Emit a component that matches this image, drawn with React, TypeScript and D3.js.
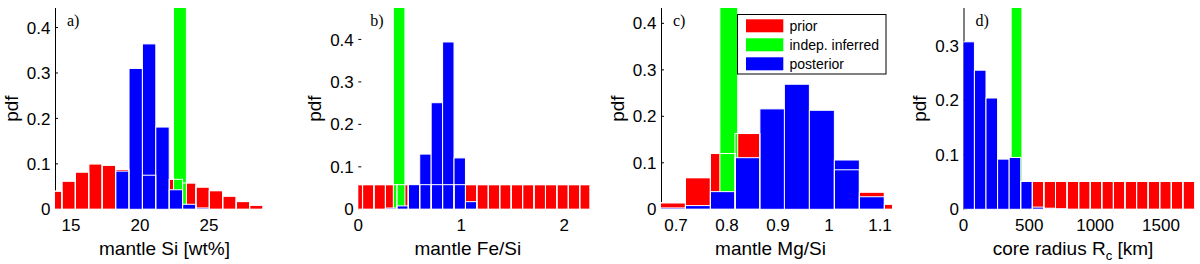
import { useEffect, useRef } from 'react';
import * as d3 from 'd3';

const W = 1200;
const H = 264;
const TOP = 8;
const BOTTOM = 209.3;
const PW = 231;

// a) mantle Si [wt%]
const siBins = [13.86, 14.83, 15.80, 16.77, 17.75, 18.72, 19.69, 20.66, 21.63, 22.60, 23.57, 24.54, 25.51, 26.48, 27.46, 28.43, 29.40];
const siPrior = [0.040, 0.062, 0.082, 0.100, 0.097, 0.088, null, 0.075, null, 0.066, 0.058, 0.049, 0.041, 0.029, 0.017, 0.009, 0.002];
const siPost = [0, 0, 0, 0, 0, 0.084, 0.310, 0.364, 0.181, 0.043, 0.011, 0.003, 0, 0, 0, 0, 0];
const siIndep = [22.43, 23.36];
const siTicks = [15, 20, 25];

// b) mantle Fe/Si
const feBins = [-0.015, 0.097, 0.208, 0.319, 0.430, 0.541, 0.652, 0.763, 0.874, 0.985, 1.096, 1.207, 1.318, 1.429, 1.540, 1.651, 1.762, 1.873, 1.984, 2.095, 2.206];
const fePrior = [0.058, 0.058, 0.058, 0.058, 0.058, 0.058, 0.058, 0.058, 0.058, 0.058, 0.058, 0.058, 0.058, 0.058, 0.058, 0.058, 0.058, 0.058, 0.058, 0.058, 0.058];
const fePost = [0, 0, 0, 0.003, 0.008, 0.059, 0.130, 0.251, 0.394, 0.121, 0.018, 0, 0, 0, 0, 0, 0, 0, 0, 0, 0];
const feIndep = [0.34, 0.453];
const feTicks = [0, 1, 2];

// c) mantle Mg/Si
const mgBins = [0.694, 0.743, 0.792, 0.840, 0.889, 0.937, 0.986, 1.035, 1.084, 1.133];
const mgPrior = [0.014, 0.068, 0.120, 0.163, null, null, null, 0.085, 0.037, 0.011];
const mgPost = [0.003, 0.008, 0.038, 0.111, 0.216, 0.269, 0.213, 0.106, 0.027, 0];
const mgIndep = [0.786, 0.821];
const mgTicks = [0.7, 0.8, 0.9, 1, 1.1];

// d) core radius [km]
const rcBins = [39, 127, 215, 303, 391, 479, 567, 655, 743, 831, 919, 1007, 1095, 1183, 1271, 1359, 1447, 1535, 1623, 1711];
const rcPrior = [null, null, null, null, null, 0.051, 0.051, 0.051, 0.051, 0.051, 0.051, 0.051, 0.051, 0.051, 0.051, 0.051, 0.051, 0.051, 0.051, 0.051];
const rcPost = [0.307, 0.255, 0.204, 0.092, 0.095, 0.051, 0.004, 0.002, 0.001, 0, 0, 0, 0, 0, 0, 0, 0, 0, 0, 0];
const rcIndep = [362, 444];
const rcTicks = [0, 500, 1000, 1500];

const pdfTicks = [0, 0.1, 0.2, 0.3, 0.4];
const pdfTicksD = [0, 0.1, 0.2, 0.3];
const indepPdf = 1;

const legendNames = ['prior', 'indep. inferred', 'posterior'];
const RED = '#ff0000';
const GREEN = '#00ff00';
const BLUE = '#0000ff';
const SANS = 'Liberation Sans, Arial, sans-serif';

interface Panel {
  tag: string;
  left: number;
  axisLine: boolean;
  xDomain: [number, number];
  yMax: number;
  xTicks: number[];
  yTicks: number[];
  bins: number[];
  binWidth: number;
  prior: (number | null)[];
  post: number[];
  indep: number[];
  label: string[];
}

const panels: Panel[] = [
  { tag: 'a)', left: 55, axisLine: true, xDomain: [13.84, 30.58], yMax: 0.443, xTicks: siTicks, yTicks: pdfTicks,
    bins: siBins, binWidth: 0.97, prior: siPrior, post: siPost, indep: siIndep, label: ['mantle Si [wt%]'] },
  { tag: 'b)', left: 358.3, axisLine: false, xDomain: [0, 2.243], yMax: 0.474, xTicks: feTicks, yTicks: pdfTicks,
    bins: feBins, binWidth: 0.111, prior: fePrior, post: fePost, indep: feIndep, label: ['mantle Fe/Si'] },
  { tag: 'c)', left: 661, axisLine: true, xDomain: [0.6706, 1.1235], yMax: 0.433, xTicks: mgTicks, yTicks: pdfTicks,
    bins: mgBins, binWidth: 0.049, prior: mgPrior, post: mgPost, indep: mgIndep, label: ['mantle Mg/Si'] },
  { tag: 'd)', left: 963.5, axisLine: true, xDomain: [0, 1755], yMax: 0.369, xTicks: rcTicks, yTicks: pdfTicksD,
    bins: rcBins, binWidth: 88, prior: rcPrior, post: rcPost, indep: rcIndep, label: ['core radius R', 'c', ' [km]'] },
];

export default function App() {
  const svgRef = useRef<SVGSVGElement>(null);

  useEffect(() => {
    if (!svgRef.current) return;
    const svg = d3.select(svgRef.current);
    svg.selectAll('*').remove();

    svg.append('rect').attr('width', W).attr('height', H).attr('fill', '#fff');
    const defs = svg.append('defs');

    panels.forEach((p, pi) => {
      const x = d3.scaleLinear().domain(p.xDomain).range([p.left, p.left + PW]);
      const y = d3.scaleLinear().domain([0, p.yMax]).range([BOTTOM, TOP]);
      const g = svg.append('g');

      defs.append('clipPath').attr('id', `clip${pi}`)
        .append('rect')
        .attr('x', p.left).attr('y', TOP)
        .attr('width', PW).attr('height', BOTTOM - TOP + 1);

      // y axis, beneath the bars
      if (p.axisLine) {
        g.append('line')
          .attr('x1', p.left + 0.5).attr('x2', p.left + 0.5)
          .attr('y1', TOP).attr('y2', BOTTOM)
          .attr('stroke', '#000').attr('stroke-width', 1);
      }

      g.selectAll('.ytick').data(p.yTicks).join('line')
        .attr('x1', p.left).attr('x2', p.left + 3)
        .attr('y1', d => y(d)).attr('y2', d => y(d))
        .attr('stroke', '#000');
      g.selectAll('.ylab').data(p.yTicks).join('text')
        .attr('x', p.left - 4.5).attr('y', d => y(d)).attr('dy', '0.36em')
        .attr('text-anchor', 'end')
        .attr('font-family', SANS)
        .attr('font-size', 17)
        .text(d => String(d));

      g.selectAll('.xlab').data(p.xTicks).join('text')
        .attr('x', d => x(d)).attr('y', 230.5)
        .attr('text-anchor', 'middle')
        .attr('font-family', SANS)
        .attr('font-size', 17)
        .text(d => String(d));

      const bars = g.append('g').attr('clip-path', `url(#clip${pi})`);
      const half = p.binWidth / 2;
      const priorIdx = p.bins.map((_, i) => i).filter(i => p.prior[i] != null);
      const postIdx = p.bins.map((_, i) => i).filter(i => p.post[i] > 0);

      bars.selectAll('.prior').data(priorIdx).join('rect')
        .attr('x', i => x(p.bins[i] - half))
        .attr('width', i => x(p.bins[i] + half) - x(p.bins[i] - half))
        .attr('y', i => y(p.prior[i] as number))
        .attr('height', i => BOTTOM - y(p.prior[i] as number))
        .attr('fill', RED).attr('stroke', '#fff').attr('stroke-width', 1);

      bars.append('rect')
        .attr('x', x(p.indep[0]))
        .attr('width', x(p.indep[1]) - x(p.indep[0]))
        .attr('y', y(indepPdf))
        .attr('height', BOTTOM - y(indepPdf))
        .attr('fill', GREEN).attr('stroke', '#fff').attr('stroke-width', 1);

      bars.selectAll('.post').data(postIdx).join('rect')
        .attr('x', i => x(p.bins[i] - half))
        .attr('width', i => x(p.bins[i] + half) - x(p.bins[i] - half))
        .attr('y', i => y(p.post[i]))
        .attr('height', i => BOTTOM - y(p.post[i]))
        .attr('fill', BLUE).attr('stroke', '#fff').attr('stroke-width', 1);

      // prior outlines show through the other bars
      bars.selectAll('.priorEdge').data(priorIdx).join('rect')
        .attr('x', i => x(p.bins[i] - half))
        .attr('width', i => x(p.bins[i] + half) - x(p.bins[i] - half))
        .attr('y', i => y(p.prior[i] as number))
        .attr('height', i => BOTTOM - y(p.prior[i] as number))
        .attr('fill', 'none').attr('stroke', '#fff').attr('stroke-width', 1);

      g.append('text')
        .attr('x', p.left + 12).attr('y', 26)
        .attr('font-family', 'Liberation Serif, Times New Roman, serif')
        .attr('font-size', 16)
        .text(p.tag);

      g.append('text')
        .attr('transform', `translate(${p.left - 44},${(TOP + BOTTOM) / 2}) rotate(-90)`)
        .attr('dy', '0.36em')
        .attr('text-anchor', 'middle')
        .attr('font-family', SANS)
        .attr('font-size', 19)
        .text('pdf');

      const xl = g.append('text')
        .attr('x', p.left + PW / 2 - 6).attr('y', 255)
        .attr('text-anchor', 'middle')
        .attr('font-family', SANS)
        .attr('font-size', 19);
      xl.append('tspan').text(p.label[0]);
      if (p.label.length > 1) {
        xl.append('tspan').attr('font-size', 13).attr('dy', 5).text(p.label[1]);
        xl.append('tspan').attr('dy', -5).text(p.label[2]);
      }
    });

    // legend in panel c
    const lg = svg.append('g');
    lg.append('rect')
      .attr('x', 737.5).attr('y', 14.5).attr('width', 148.5).attr('height', 59.5)
      .attr('fill', '#fff').attr('stroke', '#000').attr('stroke-width', 1);
    const colors = [RED, GREEN, BLUE];
    lg.selectAll('.sw').data(legendNames).join('rect')
      .attr('x', 746).attr('y', (_, i) => 19.3 + i * 19)
      .attr('width', 37.3).attr('height', 13)
      .attr('fill', (_, i) => colors[i]);
    lg.selectAll('.lt').data(legendNames).join('text')
      .attr('x', 789.5).attr('y', (_, i) => 26 + i * 19).attr('dy', '0.36em')
      .attr('font-family', SANS)
      .attr('font-size', 14)
      .text(d => d);
  }, []);

  return (
    <svg ref={svgRef} width={W} height={H}
      style={{ position: 'absolute', left: 0, top: 0, display: 'block' }} />
  );
}
